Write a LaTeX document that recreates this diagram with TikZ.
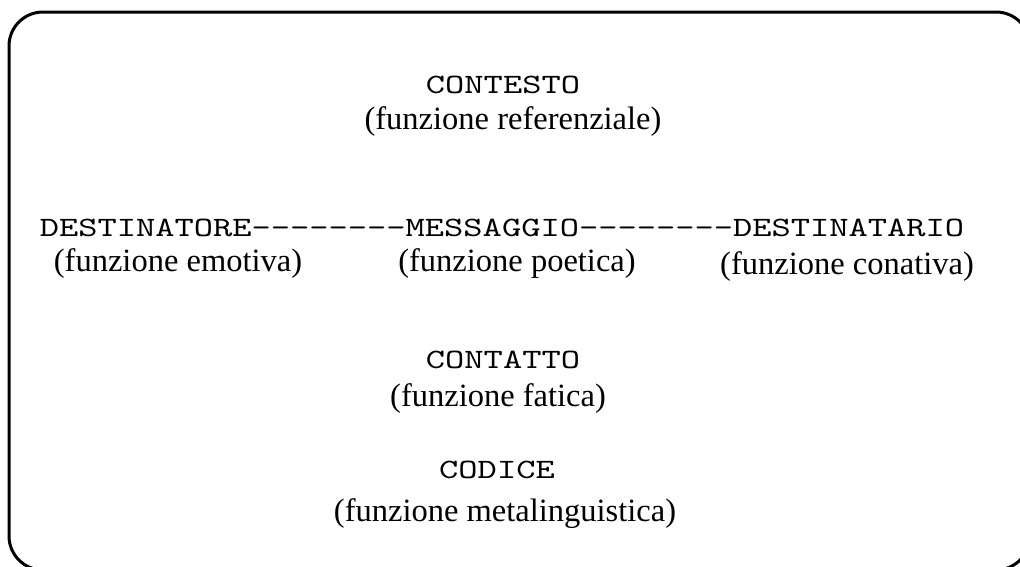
\documentclass[tikz,border=0pt]{standalone}
\usepackage{fontspec}
\setmainfont{Liberation Serif}
\newfontfamily\monof{lmmono10-regular}[Extension=.otf,FakeStretch=1.31,Ligatures=TeXOff]
\begin{document}
\begin{tikzpicture}[x=1pt,y=-1pt,
  monotext/.style={inner sep=0pt,anchor=base,font=\monof\fontsize{28}{32}\selectfont},
  seriftext/.style={inner sep=0pt,anchor=base,font=\fontsize{32.5}{38}\selectfont},
  frame/.style={line width=3pt,rounded corners=34pt}]
\useasboundingbox (0,0) rectangle (1020,566);
\clip (0,0) rectangle (1020,566);
\draw[frame] (9,12) rectangle (1030,570);
\node[monotext] (contesto) at (503,93) {CONTESTO};
\node[seriftext] (fref) at (513,129) {(funzione referenziale)};
\node[monotext] (linea) at (502,236) {DESTINATORE--------MESSAGGIO--------DESTINATARIO};
\node[seriftext] (femo) at (178,271) {(funzione emotiva)};
\node[seriftext] (fpoe) at (517,271) {(funzione poetica)};
\node[seriftext] (fcon) at (847,274) {(funzione conativa)};
\node[monotext] (contatto) at (503,368) {CONTATTO};
\node[seriftext] (ffat) at (498,406) {(funzione fatica)};
\node[monotext] (codice) at (497,478) {CODICE};
\node[seriftext] (fmet) at (505,521) {(funzione metalinguistica)};
\end{tikzpicture}
\end{document}
